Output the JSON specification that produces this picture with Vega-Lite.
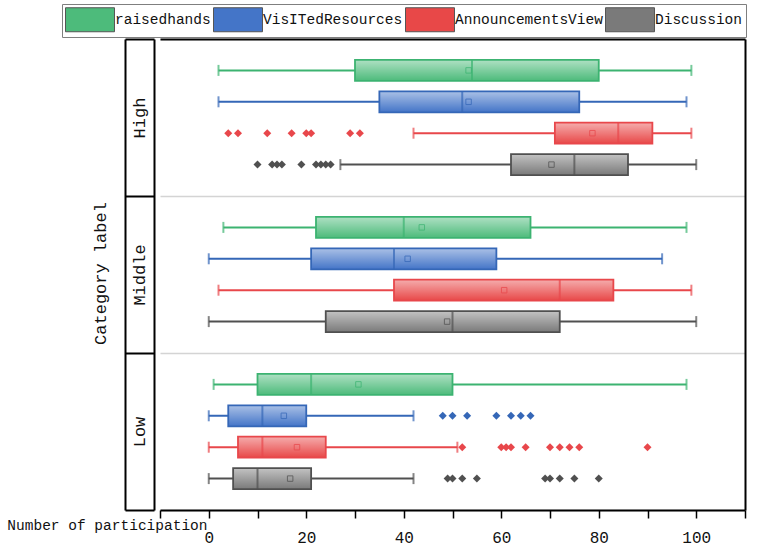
{
  "$schema": "https://vega.github.io/schema/vega-lite/v6.json",
  "autosize": "none",
  "width": 585,
  "height": 471,
  "padding": {"left": 160, "top": 39, "right": 18, "bottom": 38},
  "background": "white",
  "config": {
    "view": {"stroke": null},
    "font": "Liberation Mono",
    "axis": {"labelFont": "Liberation Mono", "titleFont": "Liberation Mono"}
  },
  "datasets": {
    "stats": [
      {"category": "High", "variable": "raisedhands", "lower": 2, "q1": 30, "median": 54, "q3": 80, "upper": 99, "mean": 53.3},
      {"category": "High", "variable": "VisITedResources", "lower": 2, "q1": 35, "median": 52, "q3": 76, "upper": 98, "mean": 53.3},
      {"category": "High", "variable": "AnnouncementsView", "lower": 42, "q1": 71, "median": 84, "q3": 91, "upper": 99, "mean": 78.7},
      {"category": "High", "variable": "Discussion", "lower": 27, "q1": 62, "median": 75, "q3": 86, "upper": 100, "mean": 70.3},
      {"category": "Middle", "variable": "raisedhands", "lower": 3, "q1": 22, "median": 40, "q3": 66, "upper": 98, "mean": 43.7},
      {"category": "Middle", "variable": "VisITedResources", "lower": 0, "q1": 21, "median": 38, "q3": 59, "upper": 93, "mean": 40.8},
      {"category": "Middle", "variable": "AnnouncementsView", "lower": 2, "q1": 38, "median": 72, "q3": 83, "upper": 99, "mean": 60.6},
      {"category": "Middle", "variable": "Discussion", "lower": 0, "q1": 24, "median": 50, "q3": 72, "upper": 100, "mean": 48.9},
      {"category": "Low", "variable": "raisedhands", "lower": 1, "q1": 10, "median": 21, "q3": 50, "upper": 98, "mean": 30.7},
      {"category": "Low", "variable": "VisITedResources", "lower": 0, "q1": 4, "median": 11, "q3": 20, "upper": 42, "mean": 15.4},
      {"category": "Low", "variable": "AnnouncementsView", "lower": 0, "q1": 6, "median": 11, "q3": 24, "upper": 51, "mean": 18.1},
      {"category": "Low", "variable": "Discussion", "lower": 0, "q1": 5, "median": 10, "q3": 21, "upper": 42, "mean": 16.7}
    ],
    "outliers": [
      {"category": "High", "variable": "AnnouncementsView", "value": 4},
      {"category": "High", "variable": "AnnouncementsView", "value": 6},
      {"category": "High", "variable": "AnnouncementsView", "value": 12},
      {"category": "High", "variable": "AnnouncementsView", "value": 17},
      {"category": "High", "variable": "AnnouncementsView", "value": 20},
      {"category": "High", "variable": "AnnouncementsView", "value": 21},
      {"category": "High", "variable": "AnnouncementsView", "value": 29},
      {"category": "High", "variable": "AnnouncementsView", "value": 31},
      {"category": "High", "variable": "Discussion", "value": 10},
      {"category": "High", "variable": "Discussion", "value": 13},
      {"category": "High", "variable": "Discussion", "value": 14},
      {"category": "High", "variable": "Discussion", "value": 15},
      {"category": "High", "variable": "Discussion", "value": 19},
      {"category": "High", "variable": "Discussion", "value": 22},
      {"category": "High", "variable": "Discussion", "value": 23},
      {"category": "High", "variable": "Discussion", "value": 24},
      {"category": "High", "variable": "Discussion", "value": 25},
      {"category": "Low", "variable": "VisITedResources", "value": 48},
      {"category": "Low", "variable": "VisITedResources", "value": 50},
      {"category": "Low", "variable": "VisITedResources", "value": 53},
      {"category": "Low", "variable": "VisITedResources", "value": 59},
      {"category": "Low", "variable": "VisITedResources", "value": 62},
      {"category": "Low", "variable": "VisITedResources", "value": 64},
      {"category": "Low", "variable": "VisITedResources", "value": 66},
      {"category": "Low", "variable": "AnnouncementsView", "value": 52},
      {"category": "Low", "variable": "AnnouncementsView", "value": 60},
      {"category": "Low", "variable": "AnnouncementsView", "value": 61},
      {"category": "Low", "variable": "AnnouncementsView", "value": 62},
      {"category": "Low", "variable": "AnnouncementsView", "value": 65},
      {"category": "Low", "variable": "AnnouncementsView", "value": 70},
      {"category": "Low", "variable": "AnnouncementsView", "value": 72},
      {"category": "Low", "variable": "AnnouncementsView", "value": 74},
      {"category": "Low", "variable": "AnnouncementsView", "value": 76},
      {"category": "Low", "variable": "AnnouncementsView", "value": 90},
      {"category": "Low", "variable": "Discussion", "value": 49},
      {"category": "Low", "variable": "Discussion", "value": 50},
      {"category": "Low", "variable": "Discussion", "value": 52},
      {"category": "Low", "variable": "Discussion", "value": 55},
      {"category": "Low", "variable": "Discussion", "value": 69},
      {"category": "Low", "variable": "Discussion", "value": 70},
      {"category": "Low", "variable": "Discussion", "value": 72},
      {"category": "Low", "variable": "Discussion", "value": 75},
      {"category": "Low", "variable": "Discussion", "value": 80}
    ]
  },
  "resolve": {"axis": {"x": "independent", "y": "independent"}},
  "layer": [
    {
      "data": {"name": "stats"},
      "mark": {"type": "rule", "strokeWidth": 2},
      "encoding": {
        "x": {
          "field": "lower", "type": "quantitative",
          "scale": {"domain": [-10, 110], "nice": false, "zero": false},
          "axis": {
            "orient": "bottom",
            "values": [-10, 0, 10, 20, 30, 40, 50, 60, 70, 80, 90, 100, 110],
            "domainColor": "black", "domainWidth": 2,
            "tickColor": "black", "tickWidth": 1.5, "tickSize": 8,
            "labelExpr": "datum.value % 20 === 0 && datum.value >= 0 && datum.value <= 100 ? datum.label : ''",
            "labelFontSize": 16, "labelPadding": 11, "labelColor": "#111",
            "labelFlush": false, "labelOverlap": false,
            "grid": false,
            "title": "Number of participation",
            "titleFontSize": 14.5, "titleFontWeight": "normal", "titleColor": "#111",
            "titleX": 47, "titleY": 19, "titleAlign": "right", "titleBaseline": "alphabetic",
            "encode": {"ticks": {"update": {"y2": {"signal": "datum.value % 20 === 0 ? 8 : 4"}}}}
          }
        },
        "x2": {"field": "upper"},
        "y": {
          "field": "category", "type": "nominal",
          "scale": {"domain": ["High", "Middle", "Low"], "paddingInner": 0, "paddingOuter": 0},
          "axis": {
            "orient": "left", "offset": 6,
            "domain": true, "domainColor": "black", "domainWidth": 2,
            "ticks": true, "tickBand": "extent", "tickSize": 29, "tickColor": "black", "tickWidth": 2,
            "labelAngle": 270, "labelAlign": "center", "labelBaseline": "middle", "labelPadding": -14.5,
            "labelFontSize": 17, "labelColor": "#111",
            "grid": true, "gridColor": "#d4d4d4", "gridWidth": 1.5,
            "title": "Category label", "titleFontSize": 17, "titleFontWeight": "normal", "titleColor": "#111",
            "titleAngle": 270, "titleAlign": "center", "titleBaseline": "middle",
            "titleX": -54, "titleY": 234
          }
        },
        "yOffset": {
          "field": "variable", "type": "nominal",
          "scale": {"domain": ["raisedhands", "VisITedResources", "AnnouncementsView", "Discussion"], "paddingInner": 0, "paddingOuter": 0.5}
        },
        "color": {
          "field": "variable", "type": "nominal",
          "scale": {"domain": ["Discussion", "AnnouncementsView", "VisITedResources", "raisedhands"], "range": ["#505050", "#e8474b", "#3567b7", "#3cb371"]},
          "legend": null
        }
      }
    },
    {
      "data": {"name": "stats"},
      "mark": {"type": "tick", "size": 11, "thickness": 2},
      "encoding": {
        "x": {"field": "lower", "type": "quantitative",
          "axis": {"orient": "top", "domain": true, "domainColor": "black", "domainWidth": 2, "ticks": false, "labels": false, "title": null, "grid": false}},
        "y": {"field": "category", "type": "nominal",
          "axis": {"orient": "left", "offset": 35, "domain": true, "domainColor": "black", "domainWidth": 2, "ticks": false, "labels": false, "title": null, "grid": false}},
        "yOffset": {"field": "variable", "type": "nominal"},
        "color": {"field": "variable", "type": "nominal", "legend": null}
      }
    },
    {
      "data": {"name": "stats"},
      "mark": {"type": "tick", "size": 11, "thickness": 2},
      "encoding": {
        "x": {"field": "upper", "type": "quantitative", "axis": null},
        "y": {"field": "category", "type": "nominal",
          "axis": {"orient": "right", "domain": true, "domainColor": "black", "domainWidth": 2, "ticks": false, "labels": false, "title": null, "grid": false}},
        "yOffset": {"field": "variable", "type": "nominal"},
        "color": {"field": "variable", "type": "nominal", "legend": null}
      }
    },
    {
      "data": {"name": "stats"},
      "mark": {"type": "bar", "height": 21, "strokeWidth": 0},
      "encoding": {
        "x": {"field": "q1", "type": "quantitative", "axis": null},
        "x2": {"field": "q3"},
        "y": {"field": "category", "type": "nominal", "axis": null},
        "yOffset": {"field": "variable", "type": "nominal"},
        "fill": {
          "field": "variable", "type": "nominal",
          "scale": {"domain": ["raisedhands", "VisITedResources", "AnnouncementsView", "Discussion"], "range": ["#4dbb7b", "#4475c8", "#e84848", "#7a7a7a"]},
          "legend": {
            "orient": "none", "legendX": -98, "legendY": -35,
            "direction": "horizontal", "columns": 4, "title": null,
            "symbolType": "M-1,-1L3.083,-1L3.083,1L-1,1Z", "symbolSize": 576,
            "symbolStrokeWidth": 1, "symbolStrokeColor": "#555555", "symbolOpacity": 1,
            "labelFont": "Liberation Mono", "labelFontSize": 14.5, "labelColor": "#111",
            "labelOffset": 25, "columnPadding": 0, "padding": 3, "labelLimit": 400,
            "strokeColor": "#7f7f7f", "fillColor": "white",
            "labelExpr": "indexof(['VisITedResources', 'Discussion'], datum.label) >= 0 ? '\\u00a0' + datum.label : datum.label == 'AnnouncementsView' ? datum.label + '\\u00a0\\u00a0' : datum.label"
          }
        }
      }
    },
    {
      "data": {"name": "stats"},
      "mark": {"type": "bar", "height": 21, "strokeWidth": 0,
        "color": {"gradient": "linear", "x1": 0, "y1": 0, "x2": 0, "y2": 1,
          "stops": [{"offset": 0, "color": "rgba(255,255,255,0.55)"}, {"offset": 1, "color": "rgba(255,255,255,0)"}]}},
      "encoding": {
        "x": {"field": "q1", "type": "quantitative", "axis": null},
        "x2": {"field": "q3"},
        "y": {"field": "category", "type": "nominal", "axis": null},
        "yOffset": {"field": "variable", "type": "nominal"}
      }
    },
    {
      "data": {"name": "stats"},
      "mark": {"type": "bar", "height": 21, "filled": false, "strokeWidth": 1.8},
      "encoding": {
        "x": {"field": "q1", "type": "quantitative", "axis": null},
        "x2": {"field": "q3"},
        "y": {"field": "category", "type": "nominal", "axis": null},
        "yOffset": {"field": "variable", "type": "nominal"},
        "color": {"field": "variable", "type": "nominal", "legend": null}
      }
    },
    {
      "data": {"name": "stats"},
      "mark": {"type": "tick", "size": 21, "thickness": 2},
      "encoding": {
        "x": {"field": "median", "type": "quantitative", "axis": null},
        "y": {"field": "category", "type": "nominal", "axis": null},
        "yOffset": {"field": "variable", "type": "nominal"},
        "color": {"field": "variable", "type": "nominal", "legend": null}
      }
    },
    {
      "data": {"name": "stats"},
      "mark": {"type": "point", "shape": "square", "filled": false, "size": 30, "strokeWidth": 1, "opacity": 0.75},
      "encoding": {
        "x": {"field": "mean", "type": "quantitative", "axis": null},
        "y": {"field": "category", "type": "nominal", "axis": null},
        "yOffset": {"field": "variable", "type": "nominal"},
        "color": {"field": "variable", "type": "nominal", "legend": null}
      }
    },
    {
      "data": {"name": "outliers"},
      "mark": {"type": "point", "shape": "diamond", "filled": true, "size": 64, "opacity": 1},
      "encoding": {
        "x": {"field": "value", "type": "quantitative", "axis": null},
        "y": {"field": "category", "type": "nominal", "axis": null},
        "yOffset": {"field": "variable", "type": "nominal"},
        "color": {"field": "variable", "type": "nominal", "legend": null}
      }
    }
  ]
}
